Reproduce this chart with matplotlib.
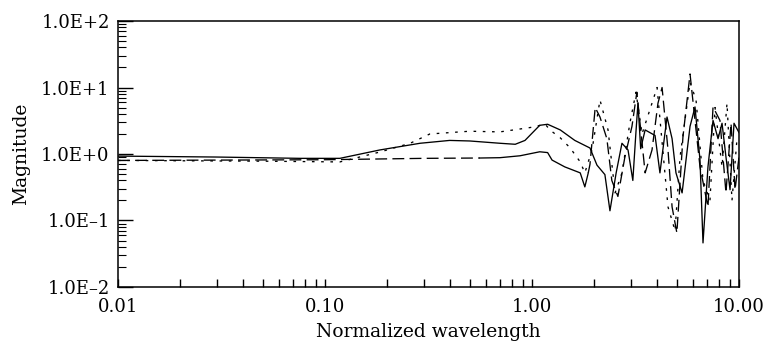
import matplotlib
matplotlib.use("Agg")
import matplotlib.pyplot as plt
from matplotlib.ticker import FixedLocator, FixedFormatter, LogLocator, NullFormatter

plt.rcParams['font.family'] = ['DejaVu Serif']

# solid series
solid_x = [0.01, 0.03, 0.076, 0.118, 0.184, 0.288, 0.40, 0.50, 0.70, 0.83, 0.925, 1.09, 1.19,
           1.37, 1.61, 1.906, 2.06, 2.25, 2.38, 2.55, 2.72, 2.91, 3.07, 3.18, 3.25, 3.35, 3.52,
           3.93, 4.15, 4.49, 4.75, 4.96, 5.31, 5.80, 6.13, 6.48, 6.70, 7.08, 7.49, 7.92, 8.28,
           8.65, 9.05, 9.46, 10.0]
solid_y = [0.93, 0.90, 0.86, 0.86, 1.15, 1.45, 1.60, 1.57, 1.45, 1.40, 1.60, 2.70, 2.80,
           2.30, 1.60, 1.23, 0.68, 0.49, 0.14, 0.52, 1.45, 1.15, 0.40, 2.2, 5.8, 1.2, 2.30,
           1.90, 0.52, 3.6, 1.70, 0.52, 0.26, 2.60, 5.1, 0.81, 0.046, 0.64, 3.2, 1.70, 2.9,
           0.90, 0.29, 2.9, 2.1]

# lower curve: long dashed on the left, solid between 0.56 and 1.9, long dashed after
dash_left_x = [0.01, 0.1, 0.3, 0.56]
dash_left_y = [0.80, 0.82, 0.86, 0.87]
lower_x = [0.56, 0.70, 0.875, 1.09, 1.19, 1.25, 1.44, 1.71, 1.80, 1.87]
lower_y = [0.87, 0.88, 0.94, 1.08, 1.05, 0.81, 0.64, 0.52, 0.32, 0.52]
dash_x = [1.87, 1.906, 2.02, 2.13, 2.30, 2.43, 2.60, 2.81, 3.04, 3.21, 3.52, 3.80, 4.06,
          4.25, 4.54, 4.75, 5.01, 5.36, 5.80, 6.48, 7.08, 7.49, 8.09, 8.65, 9.15, 9.57, 10.0]
dash_y = [0.52, 0.70, 5.0, 3.6, 1.70, 0.40, 0.23, 0.90, 2.6, 8.5, 0.52, 1.15, 5.8,
          10.0, 1.15, 0.16, 0.065, 1.8, 16.0, 0.64, 0.16, 5.1, 3.2, 0.26, 2.9, 0.29, 0.90]

# dotted series
dot_x = [0.01, 0.05, 0.118, 0.184, 0.258, 0.321, 0.50, 0.70, 0.98, 1.16, 1.22, 1.37, 1.53,
         1.71, 1.80, 1.95, 2.13, 2.33, 2.52, 2.72, 2.97, 3.18, 3.40, 4.02, 4.54, 4.91, 5.19,
         5.80, 6.20, 6.70, 7.24, 7.66, 8.28, 8.75, 9.25, 9.78]
dot_y = [0.80, 0.78, 0.76, 1.07, 1.45, 2.0, 2.2, 2.15, 2.5, 2.8, 2.3, 1.75, 1.23,
         0.76, 0.52, 1.15, 6.5, 2.3, 0.26, 0.52, 2.9, 8.5, 2.0, 10.0, 0.16, 0.07, 0.90,
         12.0, 6.5, 0.40, 0.20, 5.0, 0.64, 5.8, 0.20, 1.7]

x_ticks = [0.01, 0.1, 1.0, 10.0]
x_labels = ['0.01', '0.10', '1.00', '10.00']
y_ticks = [0.01, 0.1, 1.0, 10.0, 100.0]
y_labels = ['1.0E\u20132', '1.0E\u20131', '1.0E+0', '1.0E+1', '1.0E+2']

fig = plt.figure(figsize=(7.67, 3.49), dpi=100)
ax = fig.add_axes([0.1538, 0.1777, 0.8097, 0.7621])

ax.plot(solid_x, solid_y, color='black', lw=0.95)
ax.plot(dash_left_x, dash_left_y, color='black', lw=0.95, dashes=(9, 4))
ax.plot(lower_x, lower_y, color='black', lw=0.95)
ax.plot(dash_x, dash_y, color='black', lw=0.95, dashes=(9, 4))
ax.plot(dot_x, dot_y, color='black', lw=0.95, dashes=(2, 5))

ax.set_xscale('log')
ax.set_yscale('log')
ax.set_xlim(0.01, 10)
ax.set_ylim(0.01, 100)

ax.xaxis.set_major_locator(FixedLocator(x_ticks))
ax.xaxis.set_major_formatter(FixedFormatter(x_labels))
ax.xaxis.set_minor_locator(LogLocator(base=10, subs=range(2, 10)))
ax.xaxis.set_minor_formatter(NullFormatter())
ax.yaxis.set_major_locator(FixedLocator(y_ticks))
ax.yaxis.set_major_formatter(FixedFormatter(y_labels))
ax.yaxis.set_minor_locator(LogLocator(base=10, subs=range(2, 10)))
ax.yaxis.set_minor_formatter(NullFormatter())

ax.tick_params(axis='x', which='both', direction='in', length=6, width=1, top=False, labelsize=13, pad=8)
ax.tick_params(axis='y', which='major', direction='in', length=11, width=1, right=False, labelsize=13, pad=6)
ax.tick_params(axis='y', which='minor', direction='in', length=6, width=0.8, right=False)

for s in ax.spines.values():
    s.set_linewidth(1.1)

ax.set_xlabel('Normalized wavelength', fontsize=13.5, labelpad=5)
ax.set_ylabel('Magnitude', fontsize=13.5, labelpad=8)

fig.savefig('out.png', dpi=100)
